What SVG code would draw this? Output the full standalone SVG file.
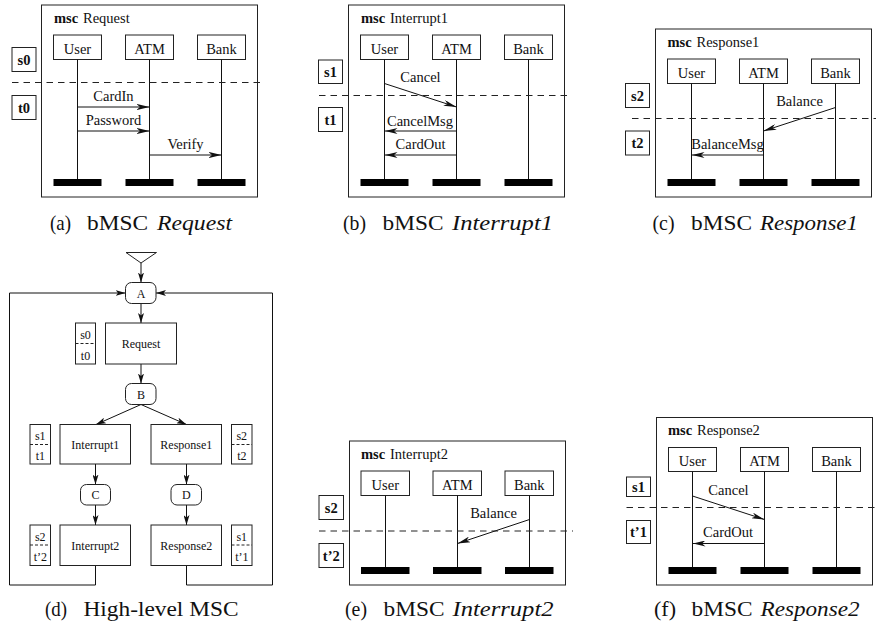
<svg xmlns="http://www.w3.org/2000/svg" width="876" height="628" viewBox="0 0 876 628" font-family="'Liberation Serif', 'DejaVu Serif', serif">
  <defs>
    <!-- slim notched arrowhead for MSC messages -->
    <marker id="ah" markerUnits="userSpaceOnUse" viewBox="0 0 13 6" refX="13" refY="3" markerWidth="13" markerHeight="6" orient="auto">
      <path d="M0,0 L13,3 L0,6 L3.5,3 Z" fill="#111"/>
    </marker>
    <!-- smaller arrowhead for the HMSC graph -->
    <marker id="ah2" markerUnits="userSpaceOnUse" viewBox="0 0 10 6" refX="10" refY="3" markerWidth="10" markerHeight="6" orient="auto">
      <path d="M0,0 L10,3 L0,6 L2.5,3 Z" fill="#111"/>
    </marker>
  </defs>
  <style>
    text { font-family: 'Liberation Serif', 'DejaVu Serif', serif; fill: #111; }
    .frame { fill: none; stroke: #222; stroke-width: 1; }
    .box { fill: #fff; stroke: #222; stroke-width: 1; }
    .life { stroke: #111; stroke-width: 1; }
    .bar { fill: #000; }
    .dash { stroke: #222; stroke-width: 1; stroke-dasharray: 6.5 5; }
    .msg { stroke: #111; stroke-width: 1; fill: none; marker-end: url(#ah); }
    .edge { stroke: #111; stroke-width: 1; fill: none; marker-end: url(#ah2); }
    .t { font-size: 14.5px; }
    .c { text-anchor: middle; }
    .b { font-weight: bold; }
    .s { font-size: 12px; text-anchor: middle; }
    .cap { font-size: 22px; }
    .it { font-style: italic; }
    .rnd { fill: #fff; stroke: #222; stroke-width: 1; }
    .hd { stroke: #222; stroke-width: 1; stroke-dasharray: 3 2; }
  </style>

  <!-- (a) bMSC Request -->
  <g id="msc-request">
    <rect class="frame" x="41.5" y="5" width="216" height="192"/>
    <text class="t b" x="54" y="22.5">msc</text>
    <text class="t" x="83" y="22.5">Request</text>
    <g id="a-user"><rect class="box" x="53.5" y="35" width="48" height="24.5"/><text class="t c" x="77.5" y="53.5">User</text></g>
    <g id="a-atm"><rect class="box" x="125.5" y="35" width="48" height="24.5"/><text class="t c" x="149.5" y="53.5">ATM</text></g>
    <g id="a-bank"><rect class="box" x="197.5" y="35" width="48" height="24.5"/><text class="t c" x="221.5" y="53.5">Bank</text></g>
    <line class="life" x1="77.5" y1="59.5" x2="77.5" y2="179"/>
    <line class="life" x1="149.5" y1="59.5" x2="149.5" y2="179"/>
    <line class="life" x1="221.5" y1="59.5" x2="221.5" y2="179"/>
    <rect class="bar" x="53.5" y="179" width="48" height="7"/>
    <rect class="bar" x="125.5" y="179" width="48" height="7"/>
    <rect class="bar" x="197.5" y="179" width="48" height="7"/>
    <g id="a-msgs">
      <line class="msg" x1="77.5" y1="107" x2="149.5" y2="107"/>
      <line class="msg" x1="77.5" y1="131" x2="149.5" y2="131"/>
      <line class="msg" x1="149.5" y1="155" x2="221.5" y2="155"/>
    </g>
    <text class="t c" x="113.5" y="100.5">CardIn</text>
    <text class="t c" x="113.5" y="124.5">Password</text>
    <text class="t c" x="185.5" y="148.5">Verify</text>
    <line class="dash" x1="12" y1="82.5" x2="265" y2="82.5"/>
    <g id="a-s0"><rect class="box" x="12" y="47.5" width="24" height="24"/><text class="t c b" x="24" y="64.5">s0</text></g>
    <g id="a-t0"><rect class="box" x="12" y="95.5" width="24" height="24"/><text class="t c b" x="24" y="112.5">t0</text></g>
    <text class="cap" x="50" y="230" textLength="21" lengthAdjust="spacingAndGlyphs">(a)</text>
    <text class="cap" x="87" y="230" textLength="61" lengthAdjust="spacingAndGlyphs">bMSC</text>
    <text class="cap it" x="157" y="230" textLength="75" lengthAdjust="spacingAndGlyphs">Request</text>
  </g>

  <!-- (b) bMSC Interrupt1 -->
  <g id="msc-interrupt1" transform="translate(307,0)">
    <rect class="frame" x="41.5" y="5" width="216" height="192"/>
    <text class="t b" x="54" y="22.5">msc</text>
    <text class="t" x="83" y="22.5">Interrupt1</text>
    <g id="b-user"><rect class="box" x="53.5" y="35" width="48" height="24.5"/><text class="t c" x="77.5" y="53.5">User</text></g>
    <g id="b-atm"><rect class="box" x="125.5" y="35" width="48" height="24.5"/><text class="t c" x="149.5" y="53.5">ATM</text></g>
    <g id="b-bank"><rect class="box" x="197.5" y="35" width="48" height="24.5"/><text class="t c" x="221.5" y="53.5">Bank</text></g>
    <line class="life" x1="77.5" y1="59.5" x2="77.5" y2="179"/>
    <line class="life" x1="149.5" y1="59.5" x2="149.5" y2="179"/>
    <line class="life" x1="221.5" y1="59.5" x2="221.5" y2="179"/>
    <rect class="bar" x="53.5" y="179" width="48" height="7"/>
    <rect class="bar" x="125.5" y="179" width="48" height="7"/>
    <rect class="bar" x="197.5" y="179" width="48" height="7"/>
    <g id="b-msgs">
      <line class="msg" x1="77.5" y1="83.5" x2="149.5" y2="107"/>
      <line class="msg" x1="149.5" y1="131" x2="77.5" y2="131"/>
      <line class="msg" x1="149.5" y1="155" x2="77.5" y2="155"/>
    </g>
    <text class="t c" x="113.5" y="82">Cancel</text>
    <text class="t c" x="113" y="126">CancelMsg</text>
    <text class="t c" x="113.5" y="149">CardOut</text>
    <line class="dash" x1="12" y1="95.5" x2="265" y2="95.5"/>
    <g id="b-s1"><rect class="box" x="11.5" y="60" width="24" height="23.5"/><text class="t c b" x="23.5" y="76.5">s1</text></g>
    <g id="b-t1"><rect class="box" x="11.5" y="107.5" width="24" height="24"/><text class="t c b" x="23.5" y="124.5">t1</text></g>
    <text class="cap" x="36" y="230" textLength="23" lengthAdjust="spacingAndGlyphs">(b)</text>
    <text class="cap" x="75.5" y="230" textLength="61" lengthAdjust="spacingAndGlyphs">bMSC</text>
    <text class="cap it" x="145" y="230" textLength="101" lengthAdjust="spacingAndGlyphs">Interrupt1</text>
  </g>

  <!-- (c) bMSC Response1 -->
  <g id="msc-response1" transform="translate(614,0)">
    <rect class="frame" x="41.5" y="29" width="216" height="168"/>
    <text class="t b" x="53.5" y="46.5">msc</text>
    <text class="t" x="82.5" y="46.5">Response1</text>
    <g id="c-user"><rect class="box" x="53.5" y="59" width="48" height="24.5"/><text class="t c" x="77.5" y="77.5">User</text></g>
    <g id="c-atm"><rect class="box" x="125.5" y="59" width="48" height="24.5"/><text class="t c" x="149.5" y="77.5">ATM</text></g>
    <g id="c-bank"><rect class="box" x="197.5" y="59" width="48" height="24.5"/><text class="t c" x="221.5" y="77.5">Bank</text></g>
    <line class="life" x1="77.5" y1="83.5" x2="77.5" y2="179"/>
    <line class="life" x1="149.5" y1="83.5" x2="149.5" y2="179"/>
    <line class="life" x1="221.5" y1="83.5" x2="221.5" y2="179"/>
    <rect class="bar" x="53.5" y="179" width="48" height="7"/>
    <rect class="bar" x="125.5" y="179" width="48" height="7"/>
    <rect class="bar" x="197.5" y="179" width="48" height="7"/>
    <g id="c-msgs">
      <line class="msg" x1="221.5" y1="107.5" x2="149.5" y2="131"/>
      <line class="msg" x1="149.5" y1="155" x2="77.5" y2="155"/>
    </g>
    <text class="t c" x="185.5" y="106">Balance</text>
    <text class="t c" x="113.5" y="148.5">BalanceMsg</text>
    <line class="dash" x1="18" y1="118.5" x2="262" y2="118.5"/>
    <g id="c-s2"><rect class="box" x="11.5" y="83.5" width="24" height="24"/><text class="t c b" x="23.5" y="100.5">s2</text></g>
    <g id="c-t2"><rect class="box" x="11.5" y="131" width="24" height="24"/><text class="t c b" x="23.5" y="148">t2</text></g>
    <text class="cap" x="38.5" y="230" textLength="22" lengthAdjust="spacingAndGlyphs">(c)</text>
    <text class="cap" x="77" y="230" textLength="61" lengthAdjust="spacingAndGlyphs">bMSC</text>
    <text class="cap it" x="146" y="230" textLength="98" lengthAdjust="spacingAndGlyphs">Response1</text>
  </g>

  <!-- (d) High-level MSC -->
  <g id="hmsc">
    <g id="hmsc-edges">
      <polygon points="126,252.5 156.5,252.5 141,263" fill="#fff" stroke="#222"/>
      <line class="edge" x1="141" y1="263" x2="141" y2="282.5"/>
      <line class="edge" x1="141" y1="303.5" x2="141" y2="323"/>
      <line class="edge" x1="141" y1="364" x2="141" y2="383.5"/>
      <line class="edge" x1="141" y1="404.5" x2="96" y2="424.5"/>
      <line class="edge" x1="141" y1="404.5" x2="186.5" y2="424.5"/>
      <line class="edge" x1="95.5" y1="464" x2="95.5" y2="484.5"/>
      <line class="edge" x1="186.5" y1="464" x2="186.5" y2="484.5"/>
      <line class="edge" x1="95.5" y1="505" x2="95.5" y2="525"/>
      <line class="edge" x1="186.5" y1="505" x2="186.5" y2="525"/>
      <path class="edge" d="M95.5,565.5 V585 H9.5 V293 H125.5"/>
      <path class="edge" d="M186.5,565.5 V585 H272.5 V293 H156"/>
    </g>
    <g id="node-A"><rect class="rnd" x="125.5" y="282.5" width="30.5" height="21" rx="6"/><text class="s" x="141" y="297.5">A</text></g>
    <g id="node-request"><rect class="box" x="105.5" y="323" width="71" height="41"/><text class="s" x="141" y="347.5">Request</text></g>
    <g id="cond-s0t0"><rect class="box" x="75.5" y="323" width="20" height="41"/><line class="hd" x1="75.5" y1="343.5" x2="95.5" y2="343.5"/><text class="s" x="85.5" y="339">s0</text><text class="s" x="85.5" y="359.5">t0</text></g>
    <g id="node-B"><rect class="rnd" x="125.5" y="383.5" width="30.5" height="21" rx="6"/><text class="s" x="141" y="398.5">B</text></g>
    <g id="node-interrupt1"><rect class="box" x="60" y="424.5" width="70.5" height="39.5"/><text class="s" x="95.3" y="448.5">Interrupt1</text></g>
    <g id="node-response1"><rect class="box" x="151" y="424.5" width="70.5" height="39.5"/><text class="s" x="186.3" y="448.5">Response1</text></g>
    <g id="cond-s1t1"><rect class="box" x="30" y="424.5" width="20.5" height="39.5"/><line class="hd" x1="30" y1="444.5" x2="50.5" y2="444.5"/><text class="s" x="40.3" y="439.5">s1</text><text class="s" x="40.3" y="459.5">t1</text></g>
    <g id="cond-s2t2"><rect class="box" x="231.5" y="424.5" width="20.5" height="39.5"/><line class="hd" x1="231.5" y1="444.5" x2="252" y2="444.5"/><text class="s" x="241.8" y="439.5">s2</text><text class="s" x="241.8" y="459.5">t2</text></g>
    <g id="node-C"><rect class="rnd" x="80.5" y="484.5" width="30" height="20.5" rx="6"/><text class="s" x="95.5" y="499">C</text></g>
    <g id="node-D"><rect class="rnd" x="171" y="484.5" width="30.5" height="20.5" rx="6"/><text class="s" x="186.3" y="499">D</text></g>
    <g id="node-interrupt2"><rect class="box" x="60" y="525" width="70.5" height="40.5"/><text class="s" x="95.3" y="549.5">Interrupt2</text></g>
    <g id="node-response2"><rect class="box" x="151" y="525" width="70.5" height="40.5"/><text class="s" x="186.3" y="549.5">Response2</text></g>
    <g id="cond-s2t2p"><rect class="box" x="30" y="525" width="20.5" height="40.5"/><line class="hd" x1="30" y1="545" x2="50.5" y2="545"/><text class="s" x="40.3" y="540.5">s2</text><text class="s" x="40.3" y="561">t’2</text></g>
    <g id="cond-s1t1p"><rect class="box" x="231.5" y="525" width="20.5" height="40.5"/><line class="hd" x1="231.5" y1="545" x2="252" y2="545"/><text class="s" x="241.8" y="540.5">s1</text><text class="s" x="241.8" y="561">t’1</text></g>
    <text class="cap" x="45" y="616" textLength="22" lengthAdjust="spacingAndGlyphs">(d)</text>
    <text class="cap" x="83.5" y="616" textLength="155" lengthAdjust="spacingAndGlyphs">High-level MSC</text>
  </g>

  <!-- (e) bMSC Interrupt2 -->
  <g id="msc-interrupt2" transform="translate(308,0)">
    <rect class="frame" x="41.5" y="441" width="216" height="144"/>
    <text class="t b" x="53" y="458.5">msc</text>
    <text class="t" x="82" y="458.5">Interrupt2</text>
    <g id="e-user"><rect class="box" x="53" y="471" width="48.5" height="24.5"/><text class="t c" x="77.3" y="489.5">User</text></g>
    <g id="e-atm"><rect class="box" x="125" y="471" width="48.5" height="24.5"/><text class="t c" x="149.3" y="489.5">ATM</text></g>
    <g id="e-bank"><rect class="box" x="197" y="471" width="48.5" height="24.5"/><text class="t c" x="221.3" y="489.5">Bank</text></g>
    <line class="life" x1="77.5" y1="495.5" x2="77.5" y2="567"/>
    <line class="life" x1="149.5" y1="495.5" x2="149.5" y2="567"/>
    <line class="life" x1="221.5" y1="495.5" x2="221.5" y2="567"/>
    <rect class="bar" x="53" y="567" width="48.5" height="7"/>
    <rect class="bar" x="125" y="567" width="48.5" height="7"/>
    <rect class="bar" x="197" y="567" width="48.5" height="7"/>
    <g id="e-msgs">
      <line class="msg" x1="221.5" y1="519.5" x2="149.5" y2="543.5"/>
    </g>
    <text class="t c" x="185.5" y="518">Balance</text>
    <line class="dash" x1="11" y1="531" x2="265" y2="531"/>
    <g id="e-s2"><rect class="box" x="11" y="495.5" width="24.5" height="24"/><text class="t c b" x="23.3" y="512.5">s2</text></g>
    <g id="e-t2p"><rect class="box" x="11" y="543.5" width="24.5" height="24"/><text class="t c b" x="23.3" y="560.5">t’2</text></g>
    <text class="cap" x="37" y="616" textLength="22" lengthAdjust="spacingAndGlyphs">(e)</text>
    <text class="cap" x="75.5" y="616" textLength="61" lengthAdjust="spacingAndGlyphs">bMSC</text>
    <text class="cap it" x="144.5" y="616" textLength="101" lengthAdjust="spacingAndGlyphs">Interrupt2</text>
  </g>

  <!-- (f) bMSC Response2 -->
  <g id="msc-response2" transform="translate(615,0)">
    <rect class="frame" x="41.5" y="417.5" width="216" height="167.5"/>
    <text class="t b" x="53" y="435">msc</text>
    <text class="t" x="82" y="435">Response2</text>
    <g id="f-user"><rect class="box" x="53.5" y="447.5" width="48" height="24"/><text class="t c" x="77.5" y="465.5">User</text></g>
    <g id="f-atm"><rect class="box" x="125.5" y="447.5" width="48" height="24"/><text class="t c" x="149.5" y="465.5">ATM</text></g>
    <g id="f-bank"><rect class="box" x="197.5" y="447.5" width="48" height="24"/><text class="t c" x="221.5" y="465.5">Bank</text></g>
    <line class="life" x1="77.5" y1="471.5" x2="77.5" y2="567"/>
    <line class="life" x1="149.5" y1="471.5" x2="149.5" y2="567"/>
    <line class="life" x1="221.5" y1="471.5" x2="221.5" y2="567"/>
    <rect class="bar" x="53.5" y="567" width="48" height="7"/>
    <rect class="bar" x="125.5" y="567" width="48" height="7"/>
    <rect class="bar" x="197.5" y="567" width="48" height="7"/>
    <g id="f-msgs">
      <line class="msg" x1="77.5" y1="496" x2="149.5" y2="519.5"/>
      <line class="msg" x1="149.5" y1="543.5" x2="77.5" y2="543.5"/>
    </g>
    <text class="t c" x="113.5" y="494.5">Cancel</text>
    <text class="t c" x="113" y="537">CardOut</text>
    <line class="dash" x1="11.5" y1="507.5" x2="262" y2="507.5"/>
    <g id="f-s1"><rect class="box" x="11.5" y="477" width="24" height="19.5"/><text class="t c b" x="23.5" y="491.5">s1</text></g>
    <g id="f-t1p"><rect class="box" x="11.5" y="520.5" width="24" height="23"/><text class="t c b" x="23.5" y="537">t’1</text></g>
    <text class="cap" x="39" y="616" textLength="22" lengthAdjust="spacingAndGlyphs">(f)</text>
    <text class="cap" x="76.5" y="616" textLength="61" lengthAdjust="spacingAndGlyphs">bMSC</text>
    <text class="cap it" x="145.5" y="616" textLength="99" lengthAdjust="spacingAndGlyphs">Response2</text>
  </g>
</svg>
